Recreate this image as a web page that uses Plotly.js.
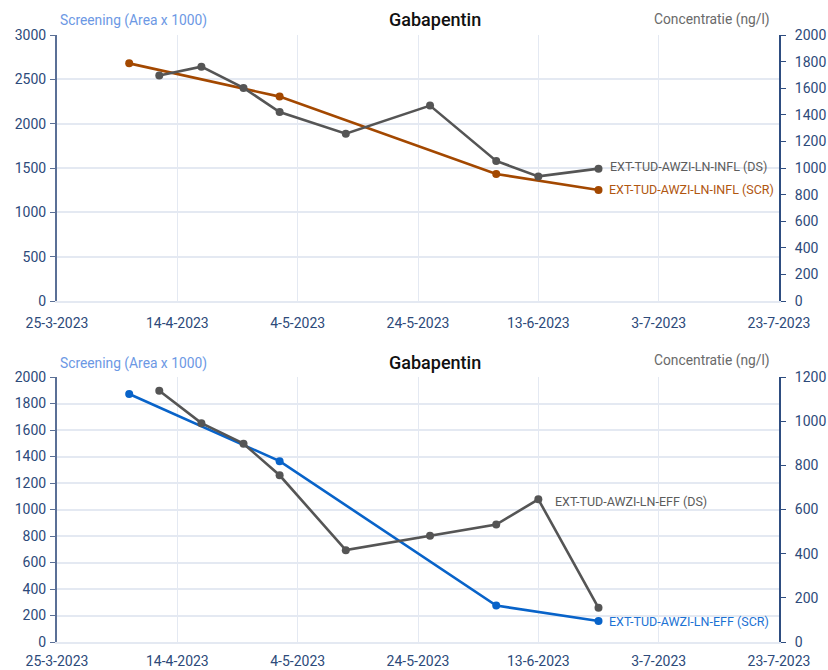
<!DOCTYPE html>
<html>
<head>
<meta charset="utf-8">
<script src="https://cdn.plot.ly/plotly-3.0.1.min.js"></script>
<style>html,body{margin:0;padding:0;background:#fff;}#chart{width:828px;height:670px;}</style>
</head>
<body>
<div id="chart"></div>
<script>
// ---- Data ----
const chartTitle = "Gabapentin";
const leftAxisTitle = "Screening (Area x 1000)";
const rightAxisTitle = "Concentratie (ng/l)";

// Top panel (influent)
const inflScrDates = ["2023-04-06", "2023-05-01", "2023-06-06", "2023-06-23"];
const inflScrValues = [2680, 2305, 1432, 1252];
const inflDsDates = ["2023-04-11", "2023-04-18", "2023-04-25", "2023-05-01", "2023-05-12", "2023-05-26", "2023-06-06", "2023-06-13", "2023-06-23"];
const inflDsValues = [1695, 1762, 1602, 1421, 1258, 1469, 1053, 937, 995];
const inflScrName = "EXT-TUD-AWZI-LN-INFL (SCR)";
const inflDsName = "EXT-TUD-AWZI-LN-INFL (DS)";

// Bottom panel (effluent)
const effScrDates = ["2023-04-06", "2023-05-01", "2023-06-06", "2023-06-23"];
const effScrValues = [1872, 1365, 275, 158];
const effDsDates = ["2023-04-11", "2023-04-18", "2023-04-25", "2023-05-01", "2023-05-12", "2023-05-26", "2023-06-06", "2023-06-13", "2023-06-23"];
const effDsValues = [1138, 991, 898, 755, 416, 481, 532, 646, 155];
const effScrName = "EXT-TUD-AWZI-LN-EFF (SCR)";
const effDsName = "EXT-TUD-AWZI-LN-EFF (DS)";

const xRange = ["2023-03-25", "2023-07-23"];
const topLeftRange = [0, 3000], topRightRange = [0, 2000];
const botLeftRange = [0, 2000], botRightRange = [0, 1200];

// ---- Styles ----
const FONT = "Roboto, 'Open Sans', sans-serif";
const orange = "#a34800", orangeText = "#b0560f";
const blue = "#0863c9", blueText = "#1c72d4";
const gray = "#555555", grayText = "#5c5c5c";
const tickColor = "#2d4a7a";
const gridColor = "#e4e9f2";
const axisLine = "#5b7096";

function line(x, y, color, xa, ya, name) {
  return {x: x, y: y, type: "scatter", mode: "lines+markers", name: name,
    xaxis: xa, yaxis: ya, line: {color: color, width: 2.6},
    marker: {color: color, size: 8}, hoverinfo: "x+y"};
}

const data = [
  line(inflDsDates, inflDsValues, gray, "x", "y2", inflDsName),
  line(inflScrDates, inflScrValues, orange, "x", "y", inflScrName),
  line(effDsDates, effDsValues, gray, "x2", "y4", effDsName),
  line(effScrDates, effScrValues, blue, "x2", "y3", effScrName)
];

const DAY = 86400000;
function xAxis(anchor, standoff) {
  return {type: "date", range: xRange, anchor: anchor, tick0: xRange[0], dtick: 20 * DAY,
    tickformat: "%-d-%-m-%Y", showgrid: true, gridcolor: gridColor, gridwidth: 1,
    showline: true, linecolor: gridColor, linewidth: 2, ticks: "", zeroline: false,
    ticklabelstandoff: standoff,
    tickfont: {family: FONT, size: 14, color: tickColor}, automargin: false};
}
function yLeft(range, dtick, domain, anchor) {
  return {range: range, dtick: dtick, domain: domain, anchor: anchor, showgrid: true,
    gridcolor: gridColor, gridwidth: 2, zeroline: false, showline: true, linecolor: axisLine,
    linewidth: 2, ticks: "outside", ticklen: 5, tickcolor: axisLine, tickwidth: 1,
    ticklabelstandoff: 1,
    tickfont: {family: FONT, size: 14, color: tickColor}, automargin: false};
}
function yRight(range, overlay, anchor) {
  return {range: range, dtick: 200, overlaying: overlay, side: "right", anchor: anchor,
    showgrid: false, zeroline: false, showline: true, linecolor: "#2e4d80", linewidth: 2,
    ticks: "outside", ticklen: 5, tickcolor: "#2e4d80", tickwidth: 1,
    ticklabelstandoff: 6,
    tickfont: {family: FONT, size: 14, color: tickColor}, automargin: false};
}

// Pixel geometry helpers for the paper-positioned texts
const W = 828, H = 670, mL = 57, mR = 49, mT = 35, mB = 28;
const pw = W - mL - mR, ph = H - mT - mB;
const px = v => (v - mL) / pw;
const py = v => (H - mB - v) / ph;

function txt(text, x, y, color, size, xanchor, extra) {
  return Object.assign({text: text, x: px(x), y: py(y), xref: "paper", yref: "paper",
    showarrow: false, xanchor: xanchor, yanchor: "middle",
    font: {family: FONT, size: size, color: color}}, extra || {});
}
function endLabel(text, x, y, xa, ya, color, xshift, yshift) {
  return {text: text, x: x, y: y, xref: xa, yref: ya, showarrow: false, xanchor: "left",
    yanchor: "middle", xshift: xshift, yshift: yshift || 0,
    font: {family: FONT, size: 12.5, color: color}};
}

const titleFont = {family: FONT, size: 18, color: "#111111", weight: 500};
const annotations = [
  txt(chartTitle, 435, 20, "#111111", 18, "center", {font: titleFont}),
  txt(leftAxisTitle, 58, 21, "#6c98e4", 13.8, "left"),
  txt(rightAxisTitle, 772, 19, "#6a6a6a", 13.8, "right"),
  txt(chartTitle, 435, 362, "#111111", 18, "center", {font: titleFont}),
  txt(leftAxisTitle, 58, 363, "#6c98e4", 13.8, "left"),
  txt(rightAxisTitle, 772, 361, "#6a6a6a", 13.8, "right"),
  endLabel(inflDsName, inflDsDates[inflDsDates.length - 1], inflDsValues[inflDsValues.length - 1], "x", "y2", grayText, 9, 2),
  endLabel(inflScrName, inflScrDates[inflScrDates.length - 1], inflScrValues[inflScrValues.length - 1], "x", "y", orangeText, 8, 0),
  endLabel(effDsName, effDsDates[7], effDsValues[7], "x2", "y4", grayText, 15, -2),
  endLabel(effScrName, effScrDates[effScrDates.length - 1], effScrValues[effScrValues.length - 1], "x2", "y3", blueText, 8, 0)
];

const topDomain = [py(301), 1];
const botDomain = [0, py(377)];

const layout = {
  width: W, height: H, showlegend: false,
  margin: {l: mL, r: mR, t: mT, b: mB, pad: 0},
  paper_bgcolor: "#ffffff", plot_bgcolor: "#ffffff",
  font: {family: FONT},
  xaxis: xAxis("y", 8),
  yaxis: yLeft(topLeftRange, 500, topDomain, "x"),
  yaxis2: yRight(topRightRange, "y", "x"),
  xaxis2: xAxis("y3", 5),
  yaxis3: yLeft(botLeftRange, 200, botDomain, "x2"),
  yaxis4: yRight(botRightRange, "y3", "x2"),
  annotations: annotations
};

Plotly.newPlot("chart", data, layout, {displayModeBar: false, staticPlot: true});
</script>
</body>
</html>
